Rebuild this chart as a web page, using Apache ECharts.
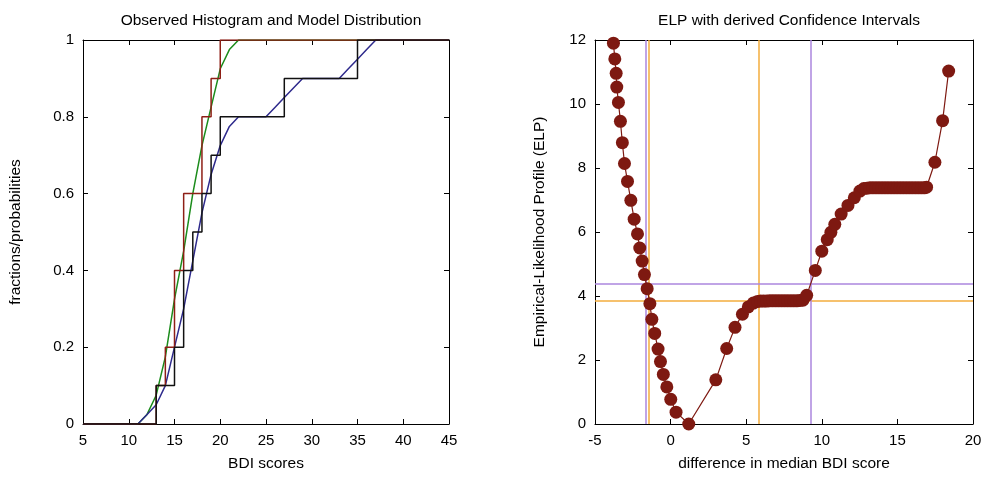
<!DOCTYPE html>
<html>
<head>
<meta charset="utf-8">
<script src="https://cdn.jsdelivr.net/npm/echarts@6/dist/echarts.min.js"></script>
<style>
  html, body { margin: 0; padding: 0; background: #fff; }
  #chart { width: 985px; height: 477px; }
</style>
</head>
<body>
<div id="chart"></div>
<script>
// ---- Left panel: empirical CDFs (step) and smoothed model CDFs ----
const redStepX   = [5, 13, 14, 15, 16, 18, 19, 20, 45];
const redStepF   = [0, 0.1, 0.2, 0.4, 0.6, 0.8, 0.9, 1.0, 1.0];
const blackStepX = [5, 13, 15, 16, 17, 18, 19, 20, 27, 35, 45];
const blackStepF = [0, 0.1, 0.2, 0.4, 0.5, 0.6, 0.7, 0.8, 0.9, 1.0, 1.0];

const greenX = [5, 11, 12, 13, 14, 15, 16, 17, 18, 19, 20, 21, 22, 45];
const greenF = [0, 0, 0.025, 0.075, 0.175, 0.325, 0.45, 0.6, 0.725, 0.825, 0.925, 0.975, 1.0, 1.0];
const blueX  = [5, 11, 12, 13, 14, 15, 16, 17, 18, 19, 20, 21, 22, 25, 26, 27, 28, 29, 33, 34, 35, 36, 37, 45];
const blueF  = [0, 0, 0.025, 0.05, 0.1, 0.2, 0.3, 0.425, 0.55, 0.65, 0.725, 0.775, 0.8, 0.8, 0.825, 0.85, 0.875, 0.9, 0.9, 0.925, 0.95, 0.975, 1.0, 1.0];

// ---- Right panel: empirical-likelihood profile ----
const elpX = [-3.78, -3.69, -3.60, -3.56, -3.45, -3.32, -3.19, -3.05, -2.85, -2.63,
              -2.41, -2.19, -2.04, -1.88, -1.73, -1.55, -1.37, -1.24, -1.05, -0.83,
              -0.67, -0.48, -0.25, 0.01, 0.36, 1.20, 2.99, 3.71, 4.26, 4.75,
              5.14, 5.47, 5.75, 5.95, 6.15, 6.35, 6.55, 6.75, 6.95, 7.15,
              7.35, 7.55, 7.75, 7.95, 8.15, 8.35, 8.55, 8.75, 9.00, 9.57,
              10.00, 10.36, 10.60, 10.86, 11.28, 11.73, 12.15, 12.52, 12.78, 12.98,
              13.18, 13.38, 13.58, 13.78, 13.98, 14.18, 14.38, 14.58, 14.78, 14.98,
              15.18, 15.38, 15.58, 15.78, 15.98, 16.18, 16.38, 16.58, 16.78, 16.93,
              17.48, 17.99, 18.39];
const elpY = [11.90, 11.41, 10.96, 10.53, 10.05, 9.46, 8.79, 8.14, 7.58, 6.99,
              6.40, 5.94, 5.50, 5.09, 4.67, 4.23, 3.76, 3.27, 2.83, 2.34,
              1.95, 1.55, 1.16, 0.77, 0.37, 0.00, 1.38, 2.36, 3.02, 3.43,
              3.66, 3.78, 3.83, 3.84, 3.84, 3.84, 3.85, 3.85, 3.85, 3.85,
              3.85, 3.85, 3.85, 3.85, 3.85, 3.85, 3.86, 3.87, 4.02, 4.80,
              5.40, 5.76, 5.99, 6.24, 6.56, 6.83, 7.07, 7.28, 7.36, 7.37,
              7.38, 7.38, 7.38, 7.38, 7.38, 7.38, 7.38, 7.38, 7.38, 7.38,
              7.38, 7.38, 7.38, 7.38, 7.38, 7.38, 7.38, 7.38, 7.38, 7.40,
              8.18, 9.48, 11.03];

// Confidence-interval thresholds and the bounds where the profile crosses them
const ciLevels = [3.84, 4.37];
const ciLower  = [-1.44, -1.62];
const ciUpper  = [5.85, 9.24];
const ciColors = ['#f3ac3c', '#ab86de'];

const zip = (xs, ys) => xs.map((x, i) => [x, ys[i]]);

const FONT = 'Liberation Sans, Arial, Helvetica, sans-serif';
const txt = { color: '#000', fontFamily: FONT, fontSize: 15 };
const nameTxt = { color: '#000', fontFamily: FONT, fontSize: 15.5 };

function mainAxis(gridIndex, pos, min, max, interval, name, nameGap) {
  return {
    type: 'value', gridIndex, position: pos, min, max, interval,
    name, nameLocation: 'middle', nameGap, nameTextStyle: nameTxt,
    axisLine: { show: true, onZero: false, lineStyle: { color: '#000', width: 1 } },
    axisTick: { show: true, inside: true, length: 5, lineStyle: { color: '#000' } },
    axisLabel: Object.assign({ margin: 9 }, txt),
    splitLine: { show: false }
  };
}
function mirrorAxis(gridIndex, pos, min, max, interval) {
  return {
    type: 'value', gridIndex, position: pos, min, max, interval,
    axisLine: { show: true, onZero: false, lineStyle: { color: '#000', width: 1 } },
    axisTick: { show: true, inside: true, length: 5, lineStyle: { color: '#000' } },
    axisLabel: { show: false },
    splitLine: { show: false }
  };
}

const ciLineData = [];
ciLevels.forEach((v, i) => {
  ciLineData.push({ yAxis: v, lineStyle: { color: ciColors[i] } });
  ciLineData.push({ xAxis: ciLower[i], lineStyle: { color: ciColors[i] } });
  ciLineData.push({ xAxis: ciUpper[i], lineStyle: { color: ciColors[i] } });
});

const option = {
  backgroundColor: '#fff',
  animation: false,
  title: [
    { text: 'Observed Histogram and Model Distribution', left: 266, top: 8, textAlign: 'center',
      textStyle: Object.assign({}, nameTxt, { fontWeight: 'normal' }) },
    { text: 'ELP with derived Confidence Intervals', left: 784, top: 8, textAlign: 'center',
      textStyle: Object.assign({}, nameTxt, { fontWeight: 'normal' }) }
  ],
  grid: [
    { left: 83, top: 40, width: 366, height: 386 },
    { left: 595, top: 40, width: 378, height: 386 }
  ],
  xAxis: [
    mainAxis(0, 'bottom', 5, 45, 5, 'BDI scores', 32),
    mirrorAxis(0, 'top', 5, 45, 5),
    mainAxis(1, 'bottom', -5, 20, 5, 'difference in median BDI score', 32),
    mirrorAxis(1, 'top', -5, 20, 5)
  ],
  yAxis: [
    mainAxis(0, 'left', 0, 1, 0.2, 'fractions/probabilities', 59),
    mirrorAxis(0, 'right', 0, 1, 0.2),
    mainAxis(1, 'left', 0, 12, 2, 'Empirical-Likelihood Profile (ELP)', 47),
    mirrorAxis(1, 'right', 0, 12, 2)
  ],
  series: [
    { type: 'line', xAxisIndex: 0, yAxisIndex: 0, data: zip(greenX, greenF),
      showSymbol: false, lineStyle: { color: '#1c8c1c', width: 1.5 }, z: 3 },
    { type: 'line', xAxisIndex: 0, yAxisIndex: 0, data: zip(blueX, blueF),
      showSymbol: false, lineStyle: { color: '#2e2a8c', width: 1.5 }, z: 3 },
    { type: 'line', xAxisIndex: 0, yAxisIndex: 0, data: zip(redStepX, redStepF), step: 'end',
      showSymbol: false, lineStyle: { color: '#8e1f16', width: 1.5 }, z: 4 },
    { type: 'line', xAxisIndex: 0, yAxisIndex: 0, data: zip(blackStepX, blackStepF), step: 'end',
      showSymbol: false, lineStyle: { color: '#111', width: 1.5 }, z: 5 },
    { type: 'line', xAxisIndex: 2, yAxisIndex: 2, data: [],
      markLine: { silent: true, symbol: 'none', label: { show: false },
                  lineStyle: { type: 'solid', width: 1.5, opacity: 1 }, data: ciLineData },
      z: 2 },
    { type: 'line', xAxisIndex: 2, yAxisIndex: 2, data: zip(elpX, elpY), clip: false,
      symbol: 'circle', symbolSize: 13,
      itemStyle: { color: '#7e1911' },
      lineStyle: { color: '#7e1911', width: 1.2 }, z: 6 }
  ]
};

const chart = echarts.init(document.getElementById('chart'), null, { renderer: 'canvas' });
chart.setOption(option);
</script>
</body>
</html>
